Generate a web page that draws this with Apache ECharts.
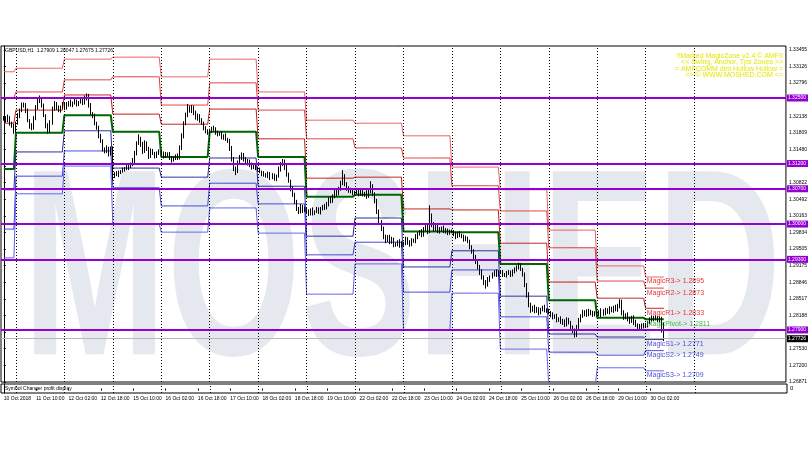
<!DOCTYPE html>
<html><head><meta charset="utf-8">
<script src="https://cdn.jsdelivr.net/npm/echarts@6/dist/echarts.min.js"></script>
<style>html,body{margin:0;padding:0;background:#fff}#c{width:810px;height:450px}</style>
</head><body><div id="c"></div>
<script>
// ---------- DATA ----------
const days = ['10 Oct','11 Oct','12 Oct','15 Oct','16 Oct','17 Oct','18 Oct','19 Oct','22 Oct','23 Oct','24 Oct','25 Oct','26 Oct','29 Oct','30 Oct'];
const barsPerDay = [6,24,24,24,24,24,24,24,24,24,24,24,24,24,10];
const separatorBars = [6,30,54,78,102,126,150,174,198,222,246,270,294,318,342];
const timeLabels = ['10 Oct 2018','11 Oct 10:00','12 Oct 02:00','12 Oct 18:00','15 Oct 10:00','16 Oct 02:00','16 Oct 18:00','17 Oct 10:00','18 Oct 02:00','18 Oct 18:00','19 Oct 10:00','22 Oct 02:00','22 Oct 18:00','23 Oct 10:00','24 Oct 02:00','24 Oct 18:00','25 Oct 10:00','26 Oct 02:00','26 Oct 18:00','29 Oct 10:00','30 Oct 02:00'];
const timeLabelBars = [0,16,32,48,64,80,96,112,128,144,160,176,192,208,224,240,256,272,288,304,320];
const priceTicks = [1.33455,1.33126,1.32796,1.32467,1.32138,1.31809,1.31480,1.31151,1.30822,1.30492,1.30163,1.29834,1.29505,1.29175,1.28846,1.28517,1.28188,1.27859,1.27530,1.27200,1.26871];

// H1 closes (price x 10000)
const firstOpen = 13208;
const closes = [
13210,13205,13212,13200,13195,13185,
13200,13215,13225,13235,13238,13225,13205,13195,13190,13210,13230,13245,13250,13235,13215,13195,13185,13200,13230,13240,13230,13225,13232,13238,
13230,13238,13242,13236,13240,13244,13238,13242,13246,13240,13250,13255,13235,13220,13215,13200,13190,13175,13165,13150,13145,13150,13140,13150,
13095,13100,13098,13103,13105,13108,13110,13112,13115,13118,13125,13140,13160,13170,13158,13145,13160,13150,13135,13145,13140,13135,13140,13145,
13140,13135,13140,13138,13132,13128,13130,13135,13132,13150,13175,13200,13215,13230,13225,13232,13220,13210,13215,13205,13200,13190,13185,13181,
13185,13190,13188,13182,13178,13180,13172,13175,13168,13165,13150,13130,13110,13105,13120,13132,13138,13128,13120,13125,13118,13112,13116,13111,
13108,13104,13100,13098,13095,13100,13092,13096,13090,13095,13108,13118,13125,13112,13098,13085,13070,13058,13045,13032,13025,13035,13028,13030,
13025,13020,13028,13022,13025,13030,13024,13030,13035,13032,13040,13050,13045,13055,13065,13060,13070,13080,13095,13080,13070,13065,13068,13062,
13062,13065,13060,13065,13058,13062,13055,13065,13075,13060,13045,13025,13005,12990,12975,12968,12975,12965,12970,12960,12960,12965,12958,12962,
12962,12970,12965,12960,12968,12966,12975,12980,12985,12978,12990,12995,12985,13015,13000,12990,12995,12985,12990,12992,12985,12988,12983,12985,
12985,12980,12975,12982,12978,12975,12970,12972,12965,12955,12945,12935,12925,12915,12905,12895,12885,12880,12890,12895,12900,12905,12900,12905,
12905,12900,12898,12902,12905,12900,12905,12910,12915,12918,12910,12900,12880,12860,12840,12830,12835,12828,12832,12825,12830,12835,12830,12828,
12825,12820,12815,12818,12810,12812,12805,12808,12800,12810,12805,12795,12790,12780,12795,12810,12818,12825,12820,12828,12822,12825,12820,12823,
12825,12820,12828,12822,12830,12826,12832,12828,12835,12830,12838,12845,12825,12815,12820,12812,12808,12815,12805,12800,12798,12795,12800,12798,
12800,12805,12810,12815,12812,12815,12810,12812,12791,12773];
const wickUp = [
4,3,5,2,3,4,
3,5,4,6,3,2,4,3,5,4,6,3,5,2,4,3,5,6,3,4,2,5,3,4,
3,4,2,5,3,4,3,2,4,3,5,4,3,5,2,4,3,5,4,3,2,6,3,4,
4,3,5,3,2,4,3,5,3,4,6,5,4,8,3,5,6,4,3,5,4,3,4,3,
3,4,3,2,5,3,4,3,5,6,5,4,6,8,5,4,3,5,4,3,5,3,4,3,
4,3,5,4,3,2,4,3,5,3,4,5,3,4,6,5,4,3,5,4,3,4,3,5,
3,4,2,5,3,4,3,5,4,3,6,5,4,3,5,4,3,5,4,3,2,5,3,4,
3,4,3,5,2,4,3,4,3,5,4,3,5,4,6,5,4,6,12,4,3,5,4,3,
4,3,5,3,4,2,5,6,10,4,3,5,4,3,5,4,3,4,5,3,4,3,5,4,
3,5,4,3,4,3,5,4,3,5,4,3,5,22,6,4,5,3,4,3,5,4,3,4,
4,3,5,3,4,3,4,5,3,4,3,5,4,3,4,5,3,4,5,3,4,3,5,3,
3,4,3,5,4,3,5,4,3,5,4,3,4,3,5,4,3,5,4,3,4,3,5,3,
4,3,5,3,4,3,5,4,3,5,4,3,4,3,5,4,3,5,4,3,4,5,3,4,
3,4,5,3,4,3,5,4,3,5,4,6,5,4,3,5,4,3,4,5,3,4,3,4,
4,3,5,4,3,4,3,5,4,14];
const wickDn = [
3,4,3,5,4,6,
4,3,5,3,4,5,3,6,4,3,4,3,5,4,3,5,6,4,3,5,4,3,4,3,
4,3,5,3,4,3,5,4,3,4,3,5,4,3,5,4,3,5,4,6,5,4,6,4,
8,4,3,5,4,3,4,3,5,4,3,5,4,3,5,6,4,5,6,4,3,5,4,3,
4,5,3,4,5,6,4,3,5,4,3,5,4,3,4,5,4,3,5,4,3,4,5,4,
3,4,3,5,4,3,4,5,3,4,5,6,5,8,4,3,5,4,3,4,5,4,3,4,
4,3,5,4,3,4,5,3,4,5,3,4,3,5,4,3,5,4,5,6,5,4,6,4,
5,4,3,5,4,3,4,5,3,4,3,5,4,3,4,5,3,4,3,5,4,3,4,5,
4,3,5,4,3,4,5,3,4,5,4,5,6,4,5,6,4,5,4,6,5,4,5,4,
5,4,6,5,4,3,4,5,3,4,3,4,5,3,6,5,4,3,4,5,3,4,5,4,
3,4,5,3,4,3,5,4,3,5,4,5,4,5,6,5,6,8,4,5,3,4,5,4,
4,5,3,4,3,5,4,3,4,5,3,4,5,6,5,6,4,5,4,6,4,3,5,4,
4,5,4,3,5,4,3,5,4,3,4,5,6,5,4,3,5,4,3,4,5,3,4,3,
4,3,5,4,3,4,5,3,4,3,4,5,6,5,4,5,6,4,5,4,6,5,4,5,
4,5,3,4,5,3,4,5,6,5];

// Daily pivot levels (price x 10000), one per day
const levelR3 = [13302,13309,13327,13331,13292,13327,13262,13206,13200,13175,13113,13068,12988,12917,12895];
const levelR2 = [13250,13262,13286,13292,13236,13280,13226,13169,13151,13131,13076,13026,12953,12887,12873];
const levelR1 = [13200,13226,13256,13218,13198,13228,13169,13091,13093,13030,13028,12962,12885,12853,12833];
const levelP  = [13109,13181,13216,13183,13133,13183,13133,13054,13058,12985,12984,12921,12849,12814,12811];
const levelS1 = [13068,13143,13185,13111,13093,13131,13075,12976,13012,12915,12947,12857,12782,12776,12771];
const levelS2 = [12990,13095,13145,13072,13036,13081,13040,12939,12964,12865,12909,12816,12746,12740,12749];
const levelS3 = [12933,13060,13115,13000,12984,13032,12982,12861,12921,12790,12863,12752,12679,12715,12709];

const roundLevels = [1.32500,1.31200,1.30700,1.30000,1.29300,1.27900];
const lastPrice = 1.27726;
const headerText = 'GBPUSD,H1  1.27909 1.28047 1.27675 1.27726';
const infoLines = ['!!Marked MagicZone v2.4 \u00a9 AMF!!','<< Swing, Anchor, Tps Zones >>','= AMFCOMM dim Hollow Hollow =','=> \u00a9 WWW.MOSHED.COM <='];
const magicNames = ['MagicR3','MagicR2','MagicR1','MagicPivot','MagicS1','MagicS2','MagicS3'];

// ---------- BUILD ----------
const FONT = 'Liberation Sans';
const ohlc = [];
let prev = firstOpen;
closes.forEach((c, i) => {
  const o = prev;
  const h = Math.max(o, c) + wickUp[i];
  const l = Math.min(o, c) - wickDn[i];
  ohlc.push([i, o / 1e4, c / 1e4, l / 1e4, h / 1e4]);
  prev = c;
});
function perBar(levels) {
  const out = []; let i = 0;
  barsPerDay.forEach((n, d) => { for (let k = 0; k < n; k++) { out.push([i, levels[d] / 1e4]); i++; } });
  return out;
}
const lastDay = barsPerDay.length - 1;
const lastStart = barsPerDay.slice(0, lastDay).reduce((a, b) => a + b, 0);
const levelSets = [
  {arr: levelR3, color: '#e86060', w: 1},
  {arr: levelR2, color: '#e23c3c', w: 1},
  {arr: levelR1, color: '#c41818', w: 1},
  {arr: levelP,  color: '#006400', w: 2},
  {arr: levelS1, color: '#26269a', w: 1},
  {arr: levelS2, color: '#4040dc', w: 1},
  {arr: levelS3, color: '#6060ee', w: 1}
];
const labelColors = ['#e00000','#e00000','#e00000','#10b010','#2020d0','#2020d0','#2020d0'];

const series = [];
levelSets.forEach(s => series.push({
  type: 'line', xAxisIndex: 0, yAxisIndex: 0, data: perBar(s.arr), symbol: 'none', silent: true,
  lineStyle: {color: s.color, width: s.w}, z: 3, animation: false
}));
series.push({
  type: 'candlestick', xAxisIndex: 0, yAxisIndex: 0, data: ohlc, barWidth: 1,
  encode: {x: 0, y: [1, 2, 3, 4]},
  itemStyle: {color: '#000', color0: '#000', borderColor: '#000', borderColor0: '#000', borderWidth: 1},
  z: 4, silent: true, animation: false
});
// round-number levels, current price, period separators (main pane)
series.push({
  type: 'line', xAxisIndex: 0, yAxisIndex: 0, data: [], silent: true, z: 5, animation: false,
  markLine: {
    symbol: 'none', silent: true, animation: false, precision: 6,
    data: roundLevels.map(v => ({yAxis: v, lineStyle: {color: '#9400d3', width: 2, type: 'solid'},
      label: {show: true, position: 'end', distance: 1, formatter: () => v.toFixed(5), color: '#fff', backgroundColor: '#9400d3', fontSize: 5, fontFamily: FONT, padding: [1, 2, 1, 1]}}))
      .concat([{yAxis: lastPrice, lineStyle: {color: '#b8b8b8', width: 1, type: 'solid'},
      label: {show: true, position: 'end', distance: 1, formatter: () => lastPrice.toFixed(5), color: '#fff', backgroundColor: '#000', fontSize: 5, fontFamily: FONT, padding: [1, 2, 1, 1]}}])
      .concat(separatorBars.map(b => ({xAxis: b, lineStyle: {color: '#000', width: 1, type: [1, 2]}, label: {show: false}})))
  }
});
// Magic labels for the current day
series.push({
  type: 'scatter', xAxisIndex: 0, yAxisIndex: 0, symbolSize: 0, silent: true, z: 6, animation: false,
  data: levelSets.map((s, j) => ({
    value: [lastStart, s.arr[lastDay] / 1e4],
    label: {show: true, position: [1, 1], align: 'left', verticalAlign: 'top', color: labelColors[j], fontSize: 7, fontFamily: FONT,
      formatter: magicNames[j] + '-> ' + (s.arr[lastDay] / 1e4).toFixed(4)}
  }))
});
// sub-window separators
series.push({
  type: 'line', xAxisIndex: 1, yAxisIndex: 1, data: [], silent: true, animation: false,
  markLine: {symbol: 'none', silent: true, animation: false, precision: 6,
    data: separatorBars.map(b => ({xAxis: b, lineStyle: {color: '#000', width: 1, type: [1, 2]}, label: {show: false}}))}
});

const option = {
  animation: false,
  backgroundColor: '#fff',
  grid: [
    {left: 1, right: 23, top: 46, height: 336, show: true, borderColor: '#000', borderWidth: 1},
    {left: 1, right: 23, top: 384, height: 9, show: true, borderColor: '#000', borderWidth: 1}
  ],
  xAxis: [
    {type: 'value', gridIndex: 0, min: -1.4, max: 387.5, axisLine: {show: false}, axisTick: {show: false}, axisLabel: {show: false}, splitLine: {show: false}},
    {type: 'value', gridIndex: 1, min: -1.4, max: 387.5, axisLine: {show: false}, splitLine: {show: false},
      axisTick: {show: true, customValues: timeLabelBars, length: 2, lineStyle: {color: '#000'}},
      axisLabel: {show: true, customValues: timeLabelBars, formatter: v => timeLabels[timeLabelBars.indexOf(Math.round(v))] || '', align: 'left', fontSize: 5, fontFamily: FONT, color: '#000', margin: 3}}
  ],
  yAxis: [
    {type: 'value', gridIndex: 0, position: 'right', min: 1.26868, max: 1.33531, splitLine: {show: false},
      axisLine: {show: true, lineStyle: {color: '#000'}},
      axisTick: {show: true, customValues: priceTicks, length: 2, lineStyle: {color: '#000'}},
      axisLabel: {show: true, customValues: priceTicks, formatter: v => v.toFixed(5), fontSize: 5, fontFamily: FONT, color: '#000', margin: 3}},
    {type: 'value', gridIndex: 1, position: 'right', min: -1, max: 1, splitLine: {show: false},
      axisLine: {show: true, lineStyle: {color: '#000'}}, axisTick: {show: false},
      axisLabel: {show: true, customValues: [0], formatter: () => '0', fontSize: 6, fontFamily: FONT, color: '#000', margin: 3}}
  ],
  graphic: [
    {type: 'text', x: 402, y: 281, z: -10, silent: true, scaleX: 0.65, scaleY: 1,
      style: {text: 'MOSHED', fill: '#e6e8f0', font: 'bold 266px "Liberation Sans"', align: 'center', verticalAlign: 'middle'}},
    {type: 'text', x: 5, y: 51, silent: true, z: 10, style: {text: headerText, fill: '#000', font: '5px "Liberation Sans"', align: 'left', verticalAlign: 'middle'}},
    {type: 'text', x: 5, y: 388.5, silent: true, z: 10, style: {text: 'Symbol Changer profit display', fill: '#000', font: '5px "Liberation Sans"', align: 'left', verticalAlign: 'middle'}}
  ].concat(infoLines.map((t, i) => ({type: 'text', x: 783, y: 56 + i * 6.5, silent: true, z: 10,
      style: {text: t, fill: '#e6e600', font: '7px "Liberation Sans"', align: 'right', verticalAlign: 'middle'}}))),
  series: series
};
const chart = echarts.init(document.getElementById('c'), null, {renderer: 'canvas'});
chart.setOption(option);
</script></body></html>
